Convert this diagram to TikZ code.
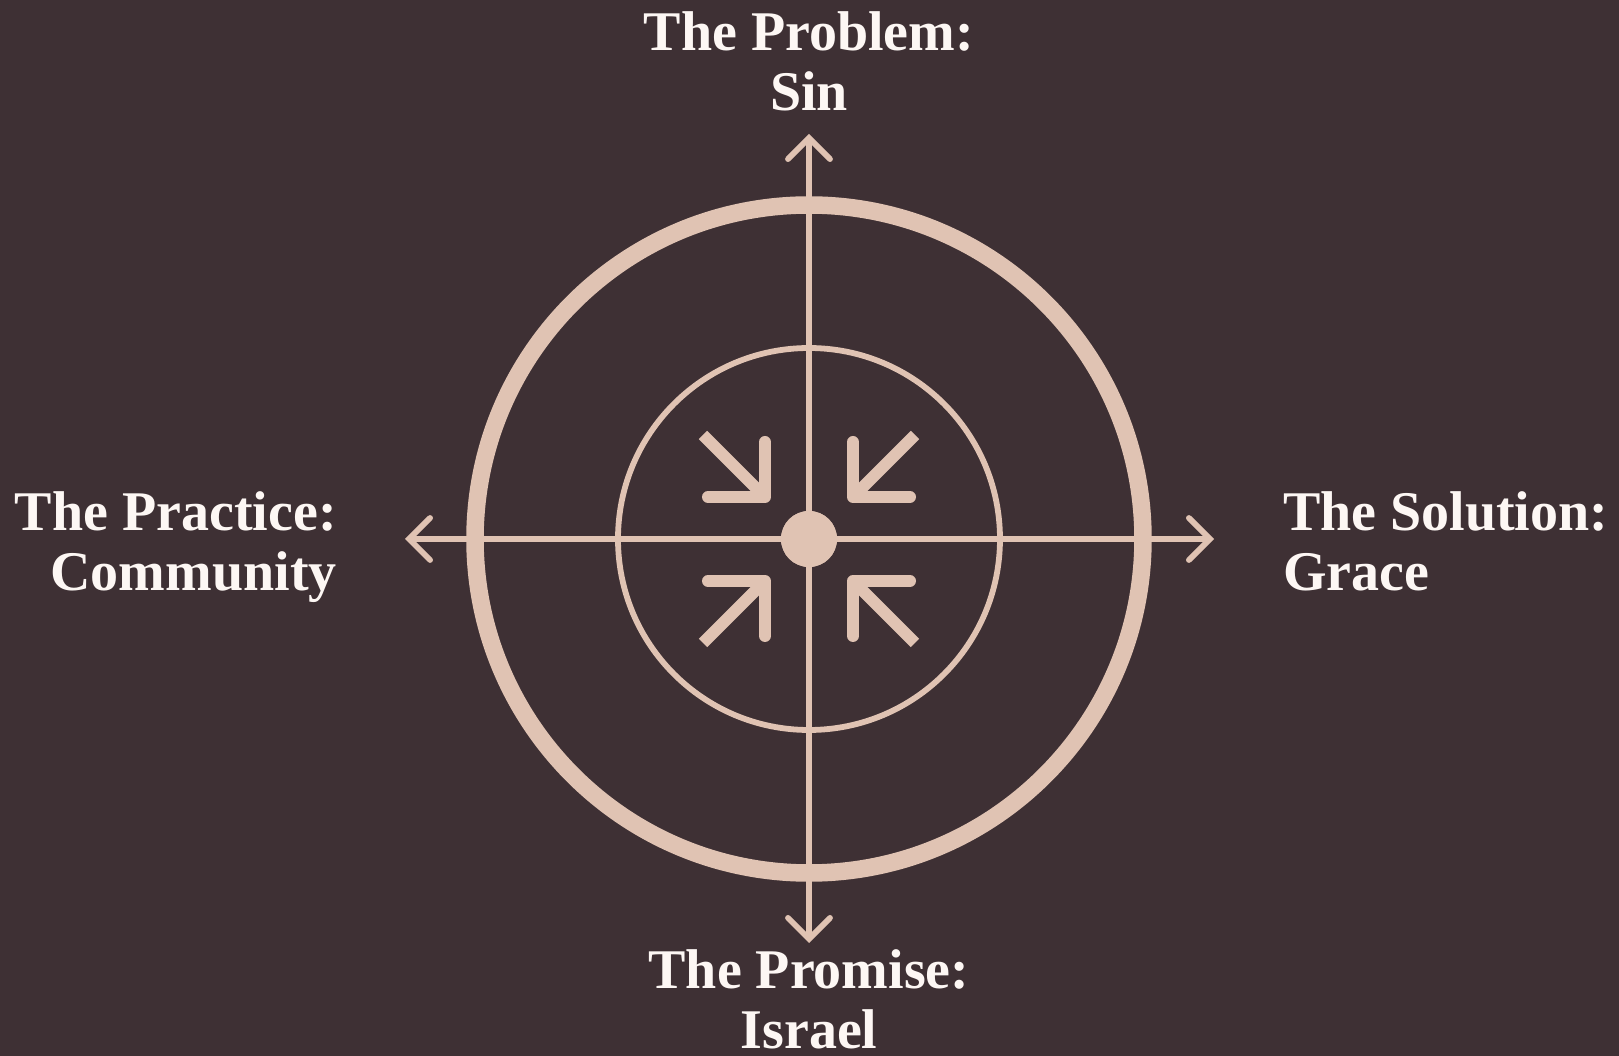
\documentclass[tikz,border=0pt]{standalone}
\usepackage{fontspec}
\setmainfont{Liberation Serif}
\usepackage{tikz}
\usetikzlibrary{arrows.meta,positioning}
\definecolor{plum}{RGB}{62,48,52}
\definecolor{blush}{RGB}{224,195,179}
\definecolor{shell}{RGB}{253,247,244}

\begin{document}
\begin{tikzpicture}[x=1pt,y=1pt,
  spoke/.style={line width=5.8pt, blush, -{Straight Barb[length=21pt,width=42pt,line cap=round]}},
  quadtext/.style={font=\fontsize{56}{60}\selectfont\bfseries, text=shell, inner sep=0pt},
  chevron/.style={line width=12pt, blush, line cap=round, line join=round}]
% Background
\fill[plum] (-809,-517) rectangle (810,539);
\useasboundingbox (-809,-517) rectangle (810,539);
% Center node and axis ends
\node[circle, fill=blush, minimum size=56pt, inner sep=0pt] (hub) at (0,0) {};
\coordinate (north) at (0,405);
\coordinate (south) at (0,-404);
\coordinate (west) at (-404,0);
\coordinate (east) at (405,0);
% Draw axes
\foreach \tip in {north, south, west, east} {
    \draw[spoke] (hub.center) -- (\tip);
}
% Rings
\draw[blush, line width=17.5pt] (hub.center) circle[radius=334pt];
\draw[blush, line width=5.8pt] (hub.center) circle[radius=191pt];
\fill[blush] (hub.center) circle[radius=28pt];
% Inward arrows
\foreach \sx/\sy in {-1/1, 1/1, -1/-1, 1/-1} {
    \draw[chevron] (\sx*44, \sy*97) -- (\sx*44, \sy*42) -- (\sx*101, \sy*42);
    \draw[chevron, line cap=butt] (\sx*44, \sy*42) -- (\sx*106, \sy*104);
}
% Labels
\node[quadtext, anchor=north, align=center] (problem) at (0,528) {The Problem:\\Sin};
\node[quadtext, anchor=north, align=center] (promise) at (0,-410) {The Promise:\\Israel};
\node[quadtext, anchor=north east, align=right] (practice) at (-472,48) {The Practice:\\Community};
\node[quadtext, anchor=north west, align=left] (solution) at (474,48) {The Solution:\\Grace};
\end{tikzpicture}
\end{document}
